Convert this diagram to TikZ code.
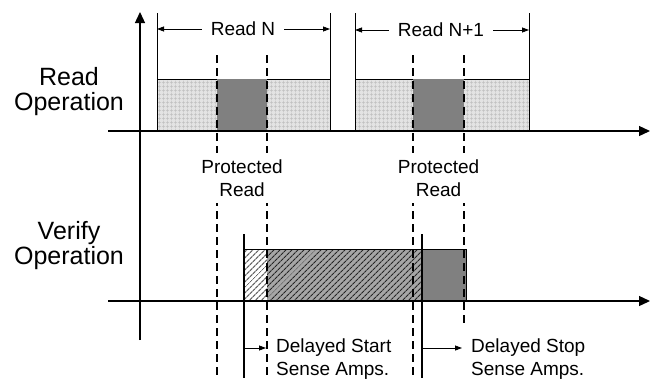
\documentclass[tikz,border=0pt]{standalone}
\usepackage{fontspec}
\setmainfont{Liberation Sans}
\usetikzlibrary{arrows.meta,patterns.meta}
\begin{document}
\begin{tikzpicture}[x=1pt,y=-1pt,line join=miter]
	\useasboundingbox (0,0) rectangle (652,381);
	\tikzset{
	axis/.style={line width=1.3pt,-{Triangle[length=11pt,width=10pt]}},
	dim/.style={line width=0.8pt,-{Triangle[length=7pt,width=5pt]}},
	cut/.style={line width=1.2pt,dash pattern=on 8pt off 5pt},
	edge/.style={line width=1.2pt},
	grd/.style={fill=gray!22,postaction={pattern={Hatch[distance=4pt,line width=0.4pt]},pattern color=gray!50}},
	slope/.style={pattern={Lines[angle=45,distance=4pt,line width=1.2pt]},pattern color=gray!80!black},
	slopedark/.style={fill=gray!70,postaction={pattern={Lines[angle=45,distance=4pt,line width=1.1pt]},pattern color=gray!30!black}},
	small/.style={font=\fontsize{19}{23}\selectfont,inner sep=0pt,align=center},
	big/.style={font=\fontsize{25}{25}\selectfont,inner sep=0pt,align=center}
	}
	% read cycles
	\foreach \a/\b in {157/330,355/529}{
	\path[grd] (\a,79) rectangle (\b,131);
	\draw[line width=0.8pt] (\a,13)--(\a,131) (\b,13)--(\b,131) (\a,79)--(\b,79);
	}
	\fill[gray] (217,79) rectangle (267,131);
	\fill[gray] (413,79) rectangle (464,131);
	% verify cycle
	\path[slope] (244,249) rectangle (267,301);
	\path[slopedark] (267,249) rectangle (422,301);
	\fill[gray] (422,249) rectangle (466,301);
	\draw[line width=0.8pt] (244,249)--(466,249)--(466,301);
	%cuts
	\draw[cut] (217,55)--(217,378) (267,55)--(267,378) (413,55)--(413,378) (464,55)--(464,327);
	\draw[edge] (244,234)--(244,378) (422,234)--(422,378);
	% axes
	\draw[axis] (140,340)--(140,12);
	\draw[axis] (108,131)--(650,131);
	\draw[axis] (108,301)--(650,301);
	% labels
	\node[big] (lblRead) at (69,92) {Read\\Operation};
	\node[big] (lblVerify) at (69,246) {Verify\\Operation};
	\node[small,inner xsep=9pt] (readN) at (243,29) {Read N};
	\node[small,inner xsep=9pt] (readN1) at (441,30) {Read N+1};
	\path (157,29) coordinate (nL) (330,29) coordinate (nR)
	(355,30) coordinate (mL) (529,30) coordinate (mR);
	\draw[dim] (readN.west)--(nL);
	\draw[dim] (readN.east)--(nR);
	\draw[dim] (readN1.west)--(mL);
	\draw[dim] (readN1.east)--(mR);
	\node[small,fill=white,inner ysep=7pt] (protA) at (242,178) {Protected\\Read};
	\node[small,fill=white,inner ysep=7pt] (protB) at (438.5,178) {Protected\\Read};
	\node[small,align=left,anchor=west] (dStart) at (276,359) {Delayed Start\\Sense Amps.};
	\node[small,align=left,anchor=west] (dStop) at (471,359) {Delayed Stop\\Sense Amps.};
	\path (244,348) coordinate (sA) (422,348) coordinate (sB);
	\draw[dim] (sA)--([xshift=-10pt]dStart.west|-sA);
	\draw[dim] (sB)--([xshift=-9pt]dStop.west|-sB);
\end{tikzpicture}
\end{document}
